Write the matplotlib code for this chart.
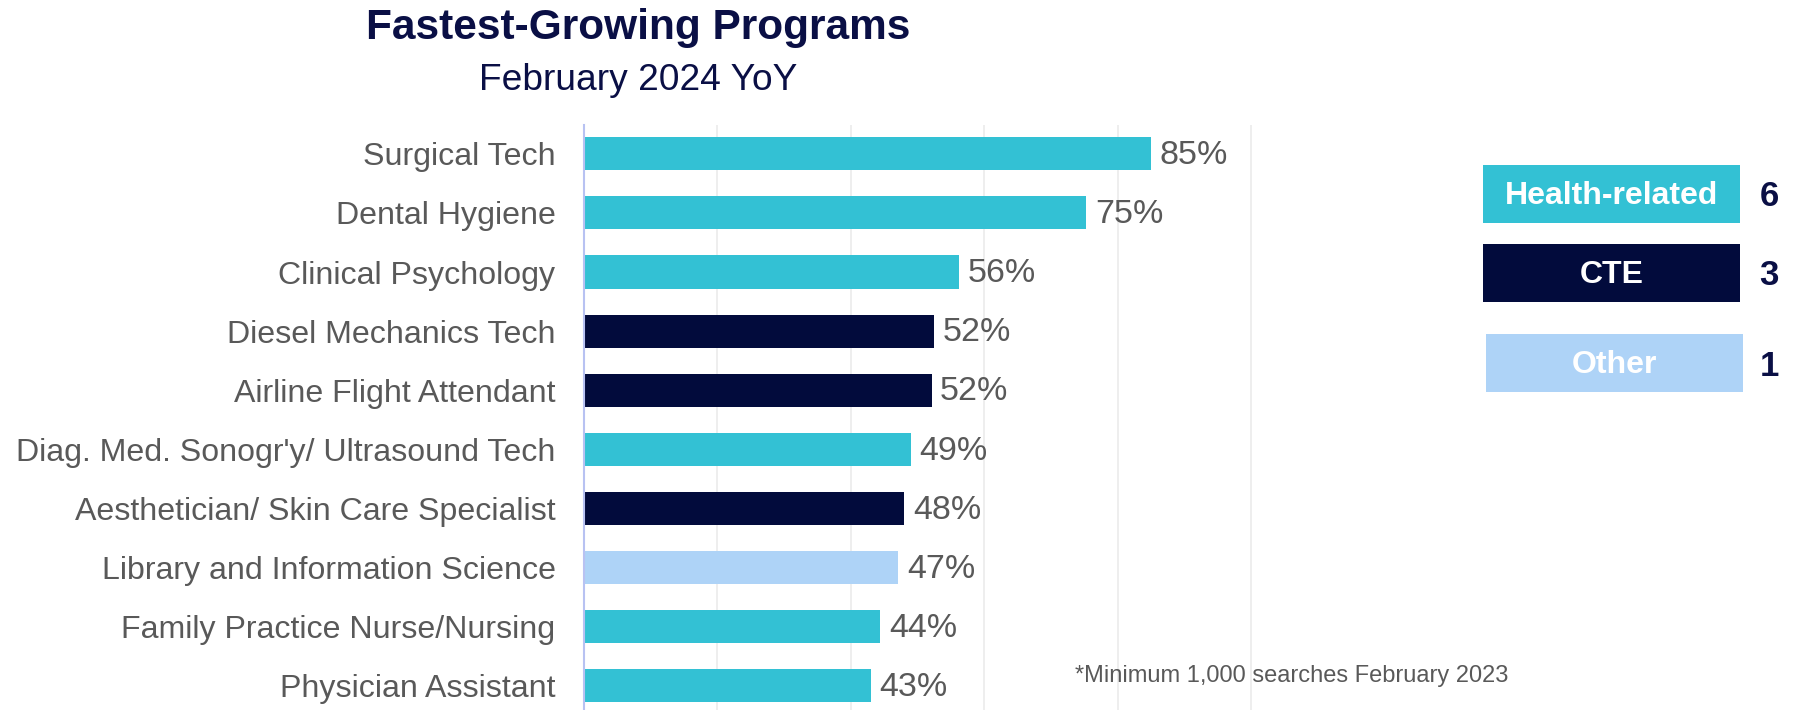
import matplotlib
matplotlib.use("Agg")
import matplotlib.pyplot as plt
from matplotlib.patches import Rectangle

plt.rcParams['font.family'] = ['Liberation Sans', 'DejaVu Sans']

programs = ["Surgical Tech", "Dental Hygiene", "Clinical Psychology",
            "Diesel Mechanics Tech", "Airline Flight Attendant",
            "Diag. Med. Sonogr'y/ Ultrasound Tech",
            "Aesthetician/ Skin Care Specialist",
            "Library and Information Science",
            "Family Practice Nurse/Nursing", "Physician Assistant"]
growth = [85.0, 75.3, 56.2, 52.5, 52.1, 49.0, 48.0, 47.1, 44.4, 43.0]
category = ["Health-related", "Health-related", "Health-related", "CTE", "CTE",
            "Health-related", "CTE", "Other", "Health-related", "Health-related"]
legend_names = ["Health-related", "CTE", "Other"]
legend_counts = [6, 3, 1]

colors = {"Health-related": "#33c1d4", "CTE": "#020b3c", "Other": "#aed3f7"}
text_gray = "#595959"
navy = "#0a0f45"

W, H = 1813, 710
fig = plt.figure(figsize=(W / 100, H / 100), dpi=100)
ax = fig.add_axes([584 / W, 0.0, (1317.7 - 584) / W, (710 - 125) / H])

ypos = list(range(len(programs)))
ax.barh(ypos, growth, height=0.56, color=[colors[c] for c in category], zorder=3)
for y, v in zip(ypos, growth):
    ax.text(v + 1.3, y + 0.03, f"{v:.0f}%", va="center", ha="left",
            fontsize=24.5, color=text_gray)

ax.set_xlim(0, 110)
ax.set_ylim(9.41, -0.487)
ax.set_yticks(ypos)
ax.set_yticklabels(programs, fontsize=23.1, color=text_gray)
ax.tick_params(axis="y", length=0, pad=20.5)
ax.set_xticks([20, 40, 60, 80, 100])
ax.tick_params(axis="x", length=0, labelbottom=False)
ax.grid(axis="x", color="#ebebeb", linewidth=1.2, zorder=0)
for s in ["top", "right", "bottom"]:
    ax.spines[s].set_visible(False)
ax.spines["left"].set_color("#b8c2f2")
ax.spines["left"].set_linewidth(1.5)
ax.spines["left"].set_zorder(4)

fig.text(638 / W, 1 - 28 / H, "Fastest-Growing Programs", ha="center", va="center",
         fontsize=30.5, fontweight="bold", color=navy)
fig.text(638 / W, 1 - 80 / H, "February 2024 YoY", ha="center", va="center",
         fontsize=26.7, color=navy)

# legend boxes
boxes = [(1483, 165), (1483, 244), (1486, 334)]
for (bx, by), name, cnt in zip(boxes, legend_names, legend_counts):
    bw, bh = 257, 58
    fig.add_artist(Rectangle((bx / W, 1 - (by + bh) / H), bw / W, bh / H,
                             transform=fig.transFigure, facecolor=colors[name],
                             edgecolor="none"))
    fig.text((bx + bw / 2) / W, 1 - (by + bh / 2 + 2) / H, name, ha="center",
             va="center", fontsize=23, fontweight="bold", color="white")
    fig.text(1769 / W, 1 - (by + bh / 2 + 3) / H, str(cnt), ha="center", va="center",
             fontsize=25, fontweight="bold", color=navy)

fig.text(1075 / W, 1 - 676 / H, "*Minimum 1,000 searches February 2023",
         ha="left", va="center", fontsize=17, color=text_gray)

fig.savefig("out.png", dpi=100)
